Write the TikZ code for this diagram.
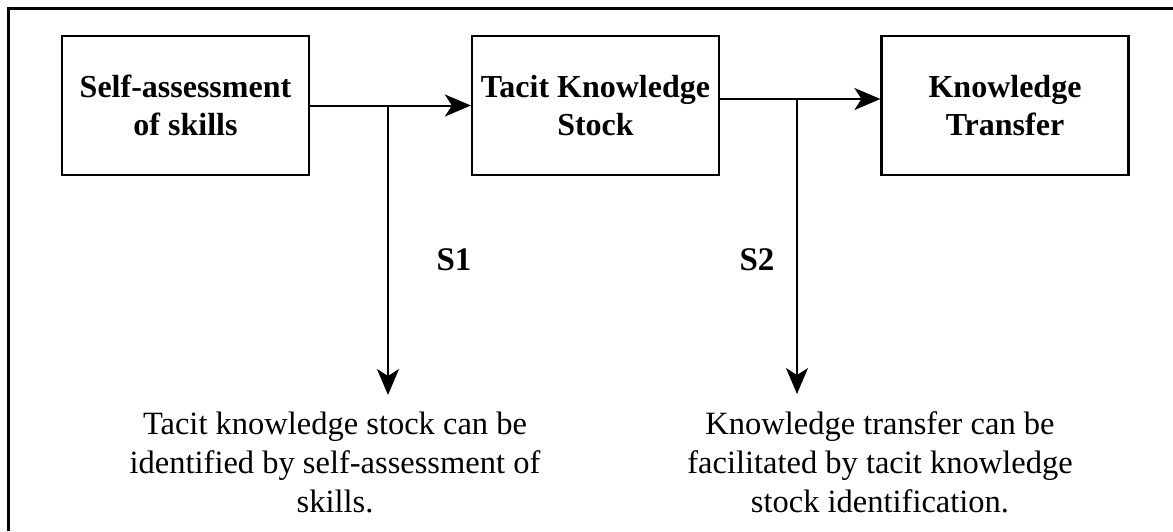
\documentclass[tikz,border=0pt]{standalone}
\usepackage{fontspec}
\setmainfont{Liberation Serif}
\usetikzlibrary{arrows.meta}
\begin{document}
\begin{tikzpicture}[x=1pt,y=-1pt,
  stagebox/.style={draw=black, line width=2.2pt, minimum width=247pt, minimum height=139pt,
    inner sep=0pt, align=center, font=\fontsize{32}{38}\selectfont\bfseries},
  note/.style={inner sep=0pt, align=center, font=\fontsize{32.5}{39}\selectfont},
  steplabel/.style={inner sep=0pt, font=\fontsize{33}{38}\selectfont\bfseries},
  link/.style={draw=black, line width=2pt, -{Stealth[length=26pt,width=22pt,inset=7pt]}}]
  \useasboundingbox (0,0) rectangle (1173,531);
  \fill[white] (0,0) rectangle (1173,531);

  % outer frame (top and left edges only)
  \draw[line width=3pt] (1173,8) -- (8,8) -- (8,531);

  % stages
  \node[stagebox] (self)  at (185.5,105.5) {Self-assessment\\of skills};
  \node[stagebox] (stock) at (595.5,105.5) {Tacit Knowledge\\Stock};
  \node[stagebox] (trans) at (1005,105.5)  {Knowledge\\Transfer};

  % main flow
  \draw[link] (self.east) -- (stock.west);
  \draw[link] ([yshift=6.5pt]stock.east) -- ([yshift=6.5pt]trans.west);

  % branches to the statements
  \coordinate (j1) at (388,105.5);
  \coordinate (t1) at (388,395);
  \coordinate (j2) at (797,99);
  \coordinate (t2) at (797,394);
  \draw[link] (j1) -- (t1);
  \draw[link] (j2) -- (t2);

  % statement labels
  \node[steplabel] (s1) at (454,260) {S1};
  \node[steplabel] (s2) at (757,260) {S2};

  % statements
  \node[note] (h1) at (335,462) {Tacit knowledge stock can be\\identified by self-assessment of\\skills.};
  \node[note] (h2) at (880,462) {Knowledge transfer can be\\facilitated by tacit knowledge\\stock identification.};
\end{tikzpicture}
\end{document}
